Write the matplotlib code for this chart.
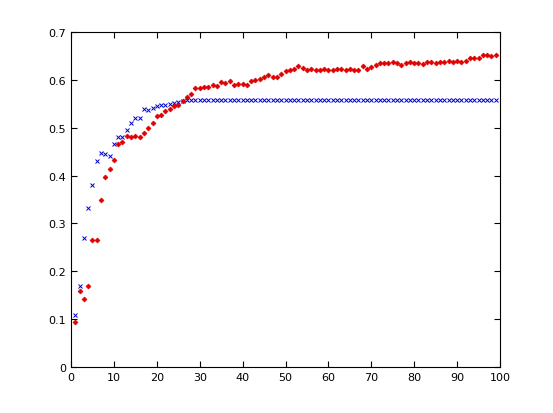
import matplotlib
matplotlib.use('Agg')
import matplotlib.pyplot as plt
import numpy as np

blue = [0.108,0.17,0.27,0.333,0.38,0.43,0.448,0.445,0.44,0.465,0.48,0.48,0.495,0.51,0.52,0.52,0.54,0.538,0.542,0.545,0.548,0.548,0.55,0.552,0.553,0.555,0.557] + [0.558]*72
red = [0.095,0.158,0.143,0.17,0.265,0.265,0.348,0.398,0.413,0.432,0.466,0.47,0.482,0.48,0.483,0.48,0.49,0.5,0.51,0.525,
       0.527,0.535,0.54,0.545,0.548,0.555,0.565,0.57,0.583,0.583,0.585,0.585,0.59,0.587,0.595,0.593,0.598,0.59,0.592,0.592,
       0.59,0.597,0.6,0.602,0.605,0.61,0.607,0.605,0.612,0.618,0.62,0.622,0.628,0.625,0.62,0.622,0.62,0.62,0.622,0.62,
       0.62,0.623,0.622,0.62,0.622,0.62,0.62,0.628,0.622,0.627,0.632,0.635,0.635,0.635,0.637,0.635,0.632,0.635,0.637,0.635,
       0.635,0.633,0.638,0.637,0.635,0.638,0.638,0.64,0.638,0.64,0.638,0.64,0.645,0.645,0.645,0.652,0.652,0.65,0.652]
x = np.arange(1, 100)

fig = plt.figure(figsize=(5.53, 4.14), dpi=100)
ax = fig.add_axes([71/553, 46/414, 429/553, 335/414])
ax.plot(x, blue, 'x', color='#0000cc', ms=3.5, mew=0.7)
ax.plot(x, red, 'D', color='#e00000', ms=2.5, mew=0.5)
ax.set_xlim(0, 100)
ax.set_ylim(0, 0.7)
ax.set_xticks(range(0, 101, 10))
ax.set_yticks(np.arange(0, 0.71, 0.1))
ax.set_yticklabels(['0','0.1','0.2','0.3','0.4','0.5','0.6','0.7'])
ax.tick_params(direction='in', labelsize=8, length=4, top=True, right=True)
fig.savefig('out.png', dpi=100)
